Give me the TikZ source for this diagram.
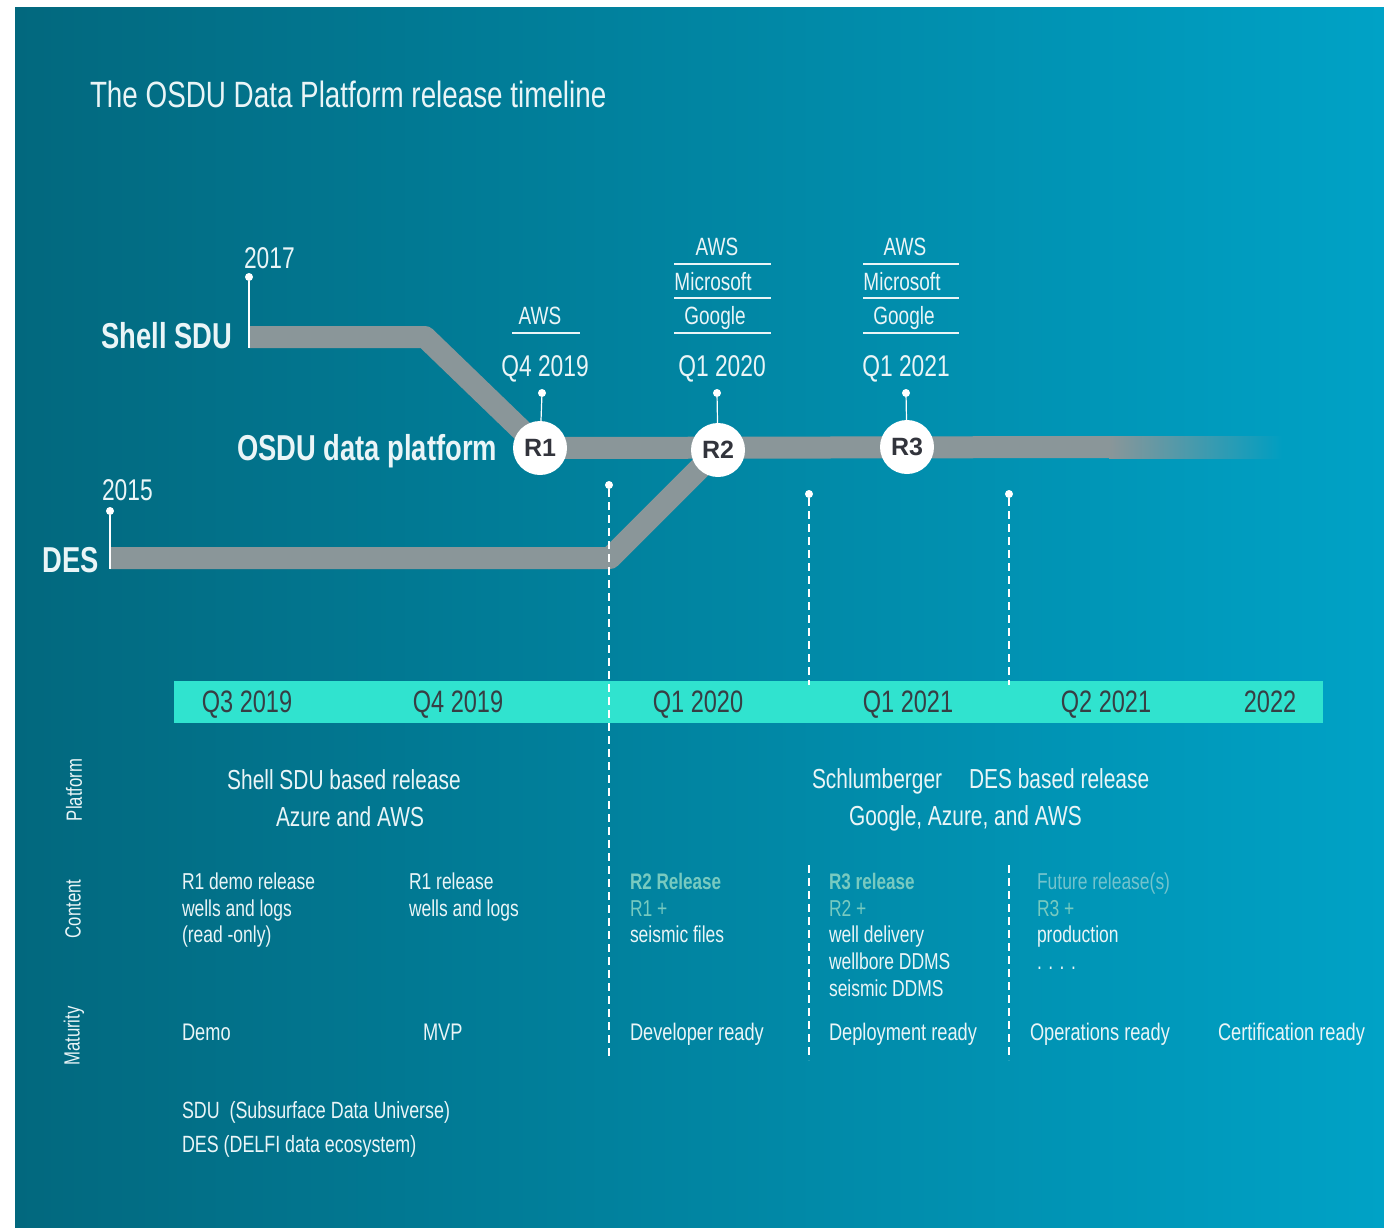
\documentclass[tikz,border=0pt]{standalone}
\usepackage{fontspec}
\setmainfont[FakeStretch=0.76]{Liberation Sans}
\newfontfamily\circfont{Liberation Sans}
\definecolor{bgL}{RGB}{2,104,126}
\definecolor{bgR}{RGB}{0,162,198}
\definecolor{bgEnd}{RGB}{0,158,193}
\definecolor{trackgray}{RGB}{138,150,153}
\definecolor{bandc}{RGB}{48,227,207}
\definecolor{bandtxt}{RGB}{55,62,68}
\definecolor{txt}{RGB}{234,245,247}
\definecolor{tealtxt}{RGB}{120,202,192}
\definecolor{futtxt}{RGB}{115,195,205}
\definecolor{circtxt}{RGB}{50,52,60}
\newcommand{\fs}[1]{\fontsize{#1}{#1}\selectfont}
\tikzset{
  every node/.style={inner sep=0pt, outer sep=0pt, text=txt},
  track/.style={draw=trackgray, line width=22pt, line join=round},
  relcirc/.style={circle, fill=white, minimum size=54pt, text=circtxt, font=\circfont\bfseries\fs{25}},
  dotnode/.style={circle, fill=white, minimum size=8pt},
  pinline/.style={draw=white, line width=1.2pt},
  vdash/.style={draw=white, line width=1.4pt, dash pattern=on 8pt off 5pt},
  uline/.style={draw=txt, line width=1.2pt},
  biglabel/.style={font=\bfseries\fs{36}, anchor=base east},
  yearlabel/.style={font=\fs{30}, anchor=base west},
  qlabel/.style={font=\fs{30}, anchor=base},
  cloud/.style={font=\fs{25}, anchor=base},
  bandlabel/.style={font=\fs{31}, anchor=base, text=bandtxt},
  rowlabel/.style={font=\fs{22}, rotate=90, anchor=center},
  platlabel/.style={font=\fs{27.5}, anchor=base},
  contlabel/.style={font=\fs{23}, anchor=base west},
  contbold/.style={font=\bfseries\fs{22.5}, anchor=base west, text=tealtxt},
  matlabel/.style={font=\fs{24}, anchor=base west},
  footlabel/.style={font=\fs{23.5}, anchor=base west},
}
\begin{document}
\begin{tikzpicture}[x=1pt,y=-1pt]
\useasboundingbox (0,0) rectangle (1384,1227);
\fill[white] (0,0) rectangle (1384,1227);
\shade[left color=bgL, right color=bgR] (15,7) rectangle (1384,1227);

% title
\node[font=\fs{36.6}, anchor=base west] (title) at (90,107) {The OSDU Data Platform release timeline};

% release circles (positions)
\coordinate (c1) at (540,448);
\coordinate (c2) at (718,450);
\coordinate (c3) at (907,447);

% tracks
\coordinate (sduStart) at (249,337);
\coordinate (sduBend) at (425,337);
\draw[track] (sduStart) -- (sduBend) -- (c1);
\coordinate (desStart) at (110,558);
\coordinate (desBend) at (610,558);
\draw[track] (desStart) -- (desBend) -- (c2);
\coordinate (osduEnd) at (1110,447);
\draw[track, line cap=butt] (c1) -- (osduEnd);
\shade[left color=trackgray, right color=bgEnd] (1109,436) rectangle (1282,458);

% year pins
\node[dotnode] (d2017) at (249,277) {};
\coordinate (d2017e) at (249,348);
\draw[pinline] (d2017) -- (d2017e);
\node[yearlabel] (y2017) at (244,268) {2017};
\node[dotnode] (d2015) at (110,511) {};
\coordinate (d2015e) at (110,569);
\draw[pinline] (d2015) -- (d2015e);
\node[yearlabel] (y2015) at (102,500) {2015};

% big labels
\node[biglabel] (shell) at (232,348) {Shell SDU};
\node[biglabel] (osdu) at (497,460) {OSDU data platform};
\node[biglabel] (des) at (99,572) {DES};

% circles
\node[relcirc] (R1) at (c1) {R1};
\node[relcirc] (R2) at (c2) {R2};
\node[relcirc] (R3) at (c3) {R3};

% release pins
\node[dotnode] (p1) at (542,393) {};
\node[dotnode] (p2) at (717,393) {};
\node[dotnode] (p3) at (906,393) {};
\draw[pinline] (p1) -- (R1);
\draw[pinline] (p2) -- (R2);
\draw[pinline] (p3) -- (R3);

\node[qlabel] (q1) at (545,376) {Q4 2019};
\node[qlabel] (q2) at (722,376) {Q1 2020};
\node[qlabel] (q3) at (906,376) {Q1 2021};

% cloud providers
\node[cloud] (aws1) at (540,324) {AWS};
\draw[uline] (512,333) -- (580,333);

\node[cloud] (aws2) at (717,255) {AWS};
\node[cloud] (ms2) at (713,290) {Microsoft};
\node[cloud] (gg2) at (715,324) {Google};
\draw[uline] (674,264) -- (771,264);
\draw[uline] (674,298) -- (771,298);
\draw[uline] (674,333) -- (771,333);

\node[cloud] (aws3) at (905,255) {AWS};
\node[cloud] (ms3) at (902,290) {Microsoft};
\node[cloud] (gg3) at (904,324) {Google};
\draw[uline] (863,264) -- (959,264);
\draw[uline] (863,298) -- (959,298);
\draw[uline] (863,333) -- (959,333);

% band
\fill[bandc] (174,681) rectangle (1323,723);
\node[bandlabel] (b1) at (247,712) {Q3 2019};
\node[bandlabel] (b2) at (458,712) {Q4 2019};
\node[bandlabel] (b3) at (698,712) {Q1 2020};
\node[bandlabel] (b4) at (908,712) {Q1 2021};
\node[bandlabel] (b5) at (1106,712) {Q2 2021};
\node[bandlabel] (b6) at (1270,712) {2022};

% dashed separators
\node[dotnode] (v1) at (609,485) {};
\coordinate (v1e) at (609,1060);
\draw[vdash] (v1) -- (v1e);
\node[dotnode] (v2) at (809,494) {};
\coordinate (v2m) at (809,685);
\coordinate (v2s) at (809,865);
\coordinate (v2e) at (809,1060);
\draw[vdash] (v2) -- (v2m);
\draw[vdash] (v2s) -- (v2e);
\node[dotnode] (v3) at (1009,494) {};
\coordinate (v3m) at (1009,685);
\coordinate (v3s) at (1009,865);
\coordinate (v3e) at (1009,1060);
\draw[vdash] (v3) -- (v3m);
\draw[vdash] (v3s) -- (v3e);

% row labels
\node[rowlabel] (rPlat) at (74,790) {Platform};
\node[rowlabel] (rCont) at (73,909) {Content};
\node[rowlabel] (rMat) at (74,1036) {Maturity};

% platform row
\node[platlabel] (pl1) at (344,789) {Shell SDU based release};
\node[platlabel] (pl2) at (350,826) {Azure and AWS};
\node[platlabel, anchor=base west] (pl3) at (812,788) {Schlumberger\hspace{27pt}DES based release};
\node[platlabel, anchor=base west] (pl4) at (849,825) {Google, Azure, and AWS};

% content row
\node[contlabel] (c1a) at (182,889) {R1 demo release};
\node[contlabel] (c1b) at (182,916) {wells and logs};
\node[contlabel] (c1c) at (182,942) {(read -only)};
\node[contlabel] (c2a) at (409,889) {R1 release};
\node[contlabel] (c2b) at (409,916) {wells and logs};
\node[contbold] (c3a) at (630,889) {R2 Release};
\node[contlabel, text=tealtxt] (c3b) at (630,916) {R1 +};
\node[contlabel] (c3c) at (630,942) {seismic files};
\node[contbold] (c4a) at (829,889) {R3 release};
\node[contlabel, text=tealtxt] (c4b) at (829,916) {R2 +};
\node[contlabel] (c4c) at (829,942) {well delivery};
\node[contlabel] (c4d) at (829,969) {wellbore DDMS};
\node[contlabel] (c4e) at (829,996) {seismic DDMS};
\node[contlabel, text=futtxt] (c5a) at (1037,889) {Future release(s)};
\node[contlabel, text=tealtxt] (c5b) at (1037,916) {R3 +};
\node[contlabel] (c5c) at (1037,942) {production};
\node[contlabel] (c5d) at (1037,969) {. . . .};

% maturity row
\node[matlabel] (m1) at (182,1040) {Demo};
\node[matlabel] (m2) at (423,1040) {MVP};
\node[matlabel] (m3) at (630,1040) {Developer ready};
\node[matlabel] (m4) at (829,1040) {Deployment ready};
\node[matlabel] (m5) at (1030,1040) {Operations ready};
\node[matlabel] (m6) at (1218,1040) {Certification ready};

% footer
\node[footlabel] (f1) at (182,1118) {SDU\ \ (Subsurface Data Universe)};
\node[footlabel] (f2) at (182,1152) {DES (DELFI data ecosystem)};
\end{tikzpicture}
\end{document}
